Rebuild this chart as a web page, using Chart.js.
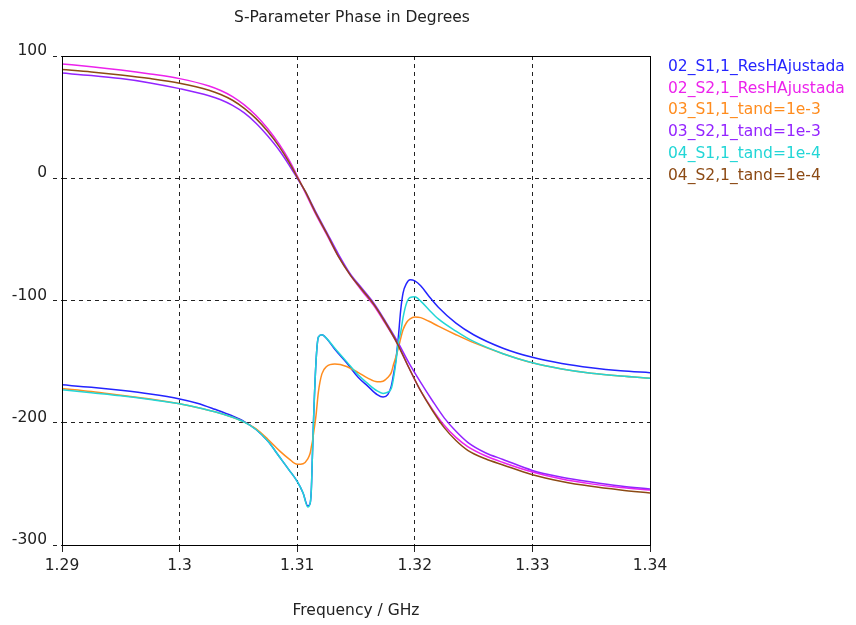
<!DOCTYPE html>
<html>
<head>
<meta charset="utf-8">
<script src="https://cdn.jsdelivr.net/npm/chart.js@4/dist/chart.umd.min.js"></script>
<style>
  html, body { margin: 0; padding: 0; background: #ffffff; }
  #wrap { width: 856px; height: 625px; position: relative; }
</style>
</head>
<body>
<div id="wrap"><canvas id="c"></canvas></div>
<script>
// ---- data ----
const chartTitle = "S-Parameter Phase in Degrees";
const xAxisTitle = "Frequency / GHz";
const seriesNames = [
  "02_S1,1_ResHAjustada",
  "02_S2,1_ResHAjustada",
  "03_S1,1_tand=1e-3",
  "03_S2,1_tand=1e-3",
  "04_S1,1_tand=1e-4",
  "04_S2,1_tand=1e-4"
];
const seriesColors = ["#2424ff", "#ec22ec", "#ff8c1e", "#9424ff", "#22d6d6", "#8c4a14"];

const xTicks = [1.29, 1.30, 1.31, 1.32, 1.33, 1.34];
const yTicks = [100, 0, -100, -200, -300];

// reflection (S1,1) frequencies, GHz
const freqS11 = [1.290, 1.2925, 1.295, 1.2975, 1.300, 1.3015, 1.3030, 1.3045, 1.3055, 1.3065,
  1.3075, 1.3085, 1.3093, 1.3100, 1.3105, 1.3109, 1.3111, 1.3112, 1.3113, 1.3114,
  1.3116, 1.3118, 1.3121, 1.3125, 1.3132, 1.3142, 1.3152, 1.3160, 1.3168, 1.3173,
  1.3177, 1.3180, 1.3182, 1.3184, 1.3186, 1.3188, 1.3190, 1.3193, 1.3196, 1.3200,
  1.3205, 1.3212, 1.3220, 1.3235, 1.3250, 1.3275, 1.3300, 1.3325, 1.3350, 1.3375,
  1.3400];

const s11_02 = [-169, -171, -173.5, -176.5, -180.5, -184, -189, -194.5, -199, -205.5,
  -215, -228, -238.5, -248, -257.5, -268, -266, -255, -225, -195,
  -150, -130, -128, -131, -140, -151, -163, -170, -177, -179,
  -177, -170, -160, -148, -130, -108, -94, -86, -83, -84,
  -88, -96.5, -105.5, -118.5, -128, -139, -146.5, -151.5, -155, -157.5,
  -159];

const s11_03 = [-172, -174.5, -177.5, -180.5, -184.5, -187.5, -191, -195.5, -199.5, -205,
  -213.5, -223, -229.5, -234, -233.5, -229.5, -225, -220, -215, -208,
  -194, -175, -160, -154, -152, -154, -159, -163.5, -166.5, -166,
  -163, -159, -152, -146, -139, -131, -124, -118, -115, -113.5,
  -114, -117, -121, -128, -134.5, -143.5, -151, -156, -159.5, -161.8,
  -163.5];

const s11_04 = [-173, -175.5, -178, -181, -184.5, -187.5, -191, -195.5, -199.5, -205.5,
  -215, -228, -238.5, -248, -257.5, -269, -266, -255, -225, -195,
  -150, -130, -128, -131, -139, -150, -161, -168, -174, -176,
  -175, -172, -163, -150, -134, -126, -114, -102, -97.5, -97,
  -100.5, -107.5, -115, -125, -133.5, -143.5, -151, -156, -159.5, -161.8,
  -163.5];

// transmission (S2,1) frequencies, GHz
const freqS21 = [1.290, 1.2925, 1.295, 1.2975, 1.300, 1.3025, 1.3035, 1.3045, 1.3055, 1.3065,
  1.3075, 1.3085, 1.3093, 1.3100, 1.3107, 1.3115, 1.3125, 1.3135, 1.3145, 1.3155,
  1.3165, 1.3175, 1.3185, 1.3195, 1.3205, 1.3215, 1.3225, 1.3235, 1.3245, 1.3260,
  1.3275, 1.3300, 1.3325, 1.3350, 1.3375, 1.3400];

const s21_02 = [93.5, 91.2, 88.5, 85.3, 81.5, 75.5, 71.8, 66.8, 60, 51.3,
  40.5, 27.5, 15, 2, -12, -28, -46, -64, -79, -92,
  -104, -119, -135, -155, -174, -189, -202, -212, -219.5, -227,
  -232.5, -240.3, -246, -250, -253, -255];

const s21_03 = [86, 84, 81.5, 78, 73.3, 67.5, 64.2, 59.6, 53.4, 45,
  34.5, 22.5, 11, 0, -11, -26, -44, -62, -78, -90,
  -102, -117, -133, -151, -167, -182, -196, -207, -216, -224.5,
  -230, -239, -244.5, -248.5, -251.8, -254.2];

const s21_04 = [89, 87, 84.5, 81.5, 77.7, 72, 68.5, 63.8, 57.2, 48.8,
  38.2, 25.5, 13.2, 1, -11, -27, -45, -64, -79, -91,
  -103, -118, -135, -155, -174, -190, -204, -214.5, -222.5, -229.5,
  -234.5, -242.5, -248, -252, -255, -257.5];

// ---- build datasets ----
const seriesX = [freqS11, freqS21, freqS11, freqS21, freqS11, freqS21];
const seriesY = [s11_02, s21_02, s11_03, s21_03, s11_04, s21_04];

const FONT = "'DejaVu Sans', Verdana, sans-serif";
const FSIZE = 15.5;

const datasets = seriesNames.map((name, i) => ({
  label: name,
  data: seriesX[i].map((f, k) => ({ x: f, y: seriesY[i][k] })),
  borderColor: seriesColors[i],
  backgroundColor: seriesColors[i],
  borderWidth: 1.5,
  pointRadius: 0,
  fill: false,
  cubicInterpolationMode: 'monotone',
  order: seriesNames.length - 1 - i
}));

const decorPlugin = {
  id: 'decor',
  afterDraw(chart) {
    const ctx = chart.ctx;
    const a = chart.chartArea;
    ctx.save();
    // frame around plot area
    ctx.strokeStyle = '#000';
    ctx.lineWidth = 1;
    ctx.setLineDash([]);
    ctx.strokeRect(Math.round(a.left) + 0.5, Math.round(a.top) + 0.5,
                   Math.round(a.right - a.left), Math.round(a.bottom - a.top));
    // title
    ctx.fillStyle = '#222';
    ctx.font = FSIZE + 'px ' + FONT;
    ctx.textAlign = 'center';
    ctx.textBaseline = 'middle';
    ctx.fillText(chartTitle, 352, 18);
    // legend
    ctx.textAlign = 'left';
    seriesNames.forEach((n, i) => {
      ctx.fillStyle = seriesColors[i];
      ctx.fillText(n, 668, 67 + i * 21.7);
    });
    ctx.restore();
  }
};

new Chart(document.getElementById('c'), {
  type: 'line',
  data: { datasets },
  plugins: [decorPlugin],
  options: {
    responsive: true,
    maintainAspectRatio: false,
    animation: false,
    layout: { padding: { left: 0, top: 56, right: 206, bottom: 0 } },
    plugins: { legend: { display: false }, title: { display: false }, tooltip: { enabled: false } },
    scales: {
      x: {
        type: 'linear',
        min: 1.29, max: 1.34,
        afterFit(s) { s.height = 80; },
        afterBuildTicks(s) { s.ticks = xTicks.map(v => ({ value: v })); },
        ticks: {
          callback: v => String(+v.toFixed(2)),
          color: '#222',
          font: { family: FONT, size: FSIZE },
          padding: 5,
          maxRotation: 0
        },
        grid: {
          color: '#222',
          lineWidth: 1,
          tickLength: 7,
          tickColor: '#222',
          tickBorderDash: [],
          drawTicks: true
        },
        border: { display: true, color: '#000', width: 1, dash: [4, 4] },
        title: {
          display: true,
          text: xAxisTitle,
          color: '#222',
          font: { family: FONT, size: FSIZE },
          padding: { top: 4, bottom: 5 }
        }
      },
      y: {
        type: 'linear',
        min: -300, max: 100,
        afterFit(s) { s.width = 62; },
        afterBuildTicks(s) { s.ticks = yTicks.map(v => ({ value: v })); },
        ticks: {
          callback: v => String(v),
          color: '#222',
          font: { family: FONT, size: FSIZE },
          padding: 6,
          labelOffset: -5
        },
        grid: {
          color: '#222',
          lineWidth: 1,
          tickLength: 9,
          tickColor: '#222',
          tickBorderDash: [4, 4]
        },
        border: { display: true, color: '#000', width: 1, dash: [4, 4] }
      }
    }
  }
});
</script>
</body>
</html>
